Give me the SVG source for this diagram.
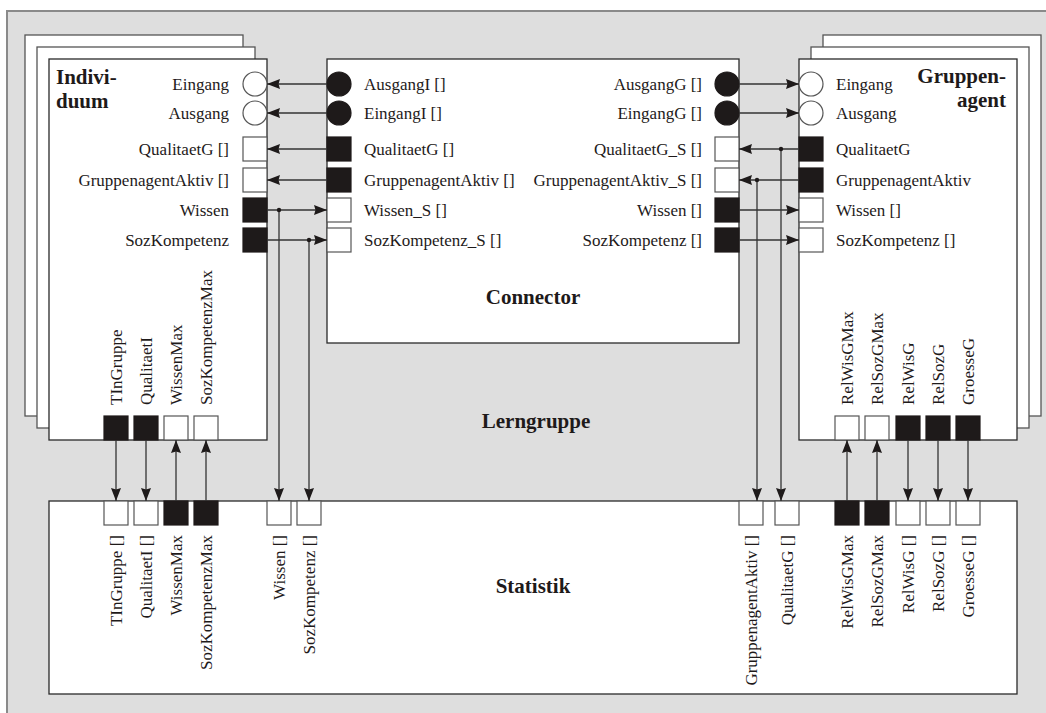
<svg xmlns="http://www.w3.org/2000/svg" width="1046" height="713" viewBox="0 0 1046 713">
  <style>
    .box { fill: #ffffff; stroke: #2a2a2a; stroke-width: 1.3; }
    .page { fill: #ffffff; stroke: #555555; stroke-width: 1.3; }
    .pin { fill: #ffffff; stroke: #555555; stroke-width: 1.2; }
    .pout { fill: #1e1a1a; stroke: #1e1a1a; stroke-width: 1.2; }
    .lbl { font-family: "Liberation Serif", "Times New Roman", serif; font-size: 17px; fill: #1e1a1a; }
    .ttl { font-family: "Liberation Serif", "Times New Roman", serif; font-size: 21px; font-weight: bold; fill: #1e1a1a; }
    .end { text-anchor: end; }
    .mid { text-anchor: middle; }
    .wire { fill: none; stroke: #333333; stroke-width: 1.3; marker-end: url(#arr); }
    .dot { fill: #1e1a1a; }
  </style>
  <defs>
    <marker id="arr" markerUnits="userSpaceOnUse" markerWidth="14" markerHeight="11" refX="13" refY="5" orient="auto">
      <path d="M0,0 L13,5 L0,10 L1.5,5 z" fill="#1e1a1a"/>
    </marker>
  </defs>

  <!-- learning group frame -->
  <rect x="7" y="11" width="1060" height="720" fill="#dedede" stroke="#8a8a8a" stroke-width="2"/>
  <text class="ttl mid" x="536" y="428">Lerngruppe</text>

  <!-- Individuum (stacked instances) -->
  <g id="individuum">
    <rect class="page" x="25" y="35" width="218" height="381"/>
    <rect class="page" x="37" y="47" width="218" height="381"/>
    <rect class="box" x="49" y="59" width="218" height="381"/>
    <text class="ttl" x="56" y="84">Indivi-</text>
    <text class="ttl" x="56" y="107.5">duum</text>
    <circle class="pin" cx="255" cy="84" r="12"/>
    <circle class="pin" cx="255" cy="113" r="12"/>
    <rect class="pin" x="243" y="137" width="24" height="24"/>
    <rect class="pin" x="243" y="168" width="24" height="24"/>
    <rect class="pout" x="243" y="198" width="24" height="24"/>
    <rect class="pout" x="243" y="228" width="24" height="24"/>
    <text class="lbl end" x="229" y="90">Eingang</text>
    <text class="lbl end" x="229" y="119">Ausgang</text>
    <text class="lbl end" x="229" y="155">QualitaetG []</text>
    <text class="lbl end" x="229" y="186">GruppenagentAktiv []</text>
    <text class="lbl end" x="229" y="216">Wissen</text>
    <text class="lbl end" x="229" y="246">SozKompetenz</text>
    <rect class="pout" x="104" y="416" width="24" height="24"/>
    <rect class="pout" x="134" y="416" width="24" height="24"/>
    <rect class="pin" x="164" y="416" width="24" height="24"/>
    <rect class="pin" x="194" y="416" width="24" height="24"/>
    <text class="lbl" transform="translate(121.5,405) rotate(-90)">TInGruppe</text>
    <text class="lbl" transform="translate(151.5,405) rotate(-90)">QualitaetI</text>
    <text class="lbl" transform="translate(181.5,405) rotate(-90)">WissenMax</text>
    <text class="lbl" transform="translate(211.5,405) rotate(-90)">SozKompetenzMax</text>
  </g>

  <!-- Connector -->
  <g id="connector">
    <rect class="box" x="327" y="59" width="412" height="284"/>
    <circle class="pout" cx="339" cy="84" r="12"/>
    <circle class="pout" cx="339" cy="113" r="12"/>
    <rect class="pout" x="327" y="137" width="24" height="24"/>
    <rect class="pout" x="327" y="168" width="24" height="24"/>
    <rect class="pin" x="327" y="198" width="24" height="24"/>
    <rect class="pin" x="327" y="228" width="24" height="24"/>
    <text class="lbl" x="364" y="90">AusgangI []</text>
    <text class="lbl" x="364" y="119">EingangI []</text>
    <text class="lbl" x="364" y="155">QualitaetG []</text>
    <text class="lbl" x="364" y="186">GruppenagentAktiv []</text>
    <text class="lbl" x="364" y="216">Wissen_S []</text>
    <text class="lbl" x="364" y="246">SozKompetenz_S []</text>
    <circle class="pout" cx="727" cy="84" r="12"/>
    <circle class="pout" cx="727" cy="113" r="12"/>
    <rect class="pin" x="715" y="137" width="24" height="24"/>
    <rect class="pin" x="715" y="168" width="24" height="24"/>
    <rect class="pout" x="715" y="198" width="24" height="24"/>
    <rect class="pout" x="715" y="228" width="24" height="24"/>
    <text class="lbl end" x="702" y="90">AusgangG []</text>
    <text class="lbl end" x="702" y="119">EingangG []</text>
    <text class="lbl end" x="702" y="155">QualitaetG_S []</text>
    <text class="lbl end" x="702" y="186">GruppenagentAktiv_S []</text>
    <text class="lbl end" x="702" y="216">Wissen []</text>
    <text class="lbl end" x="702" y="246">SozKompetenz []</text>
    <text class="ttl mid" x="533" y="304">Connector</text>
  </g>

  <!-- Gruppenagent (stacked instances) -->
  <g id="gruppenagent">
    <rect class="page" x="823" y="35" width="218" height="381"/>
    <rect class="page" x="811" y="47" width="218" height="381"/>
    <rect class="box" x="799" y="59" width="218" height="381"/>
    <text class="ttl end" x="1006" y="83">Gruppen-</text>
    <text class="ttl end" x="1006" y="107">agent</text>
    <circle class="pin" cx="811" cy="84" r="12"/>
    <circle class="pin" cx="811" cy="113" r="12"/>
    <rect class="pout" x="799" y="137" width="24" height="24"/>
    <rect class="pout" x="799" y="168" width="24" height="24"/>
    <rect class="pin" x="799" y="198" width="24" height="24"/>
    <rect class="pin" x="799" y="228" width="24" height="24"/>
    <text class="lbl" x="836" y="90">Eingang</text>
    <text class="lbl" x="836" y="119">Ausgang</text>
    <text class="lbl" x="836" y="155">QualitaetG</text>
    <text class="lbl" x="836" y="186">GruppenagentAktiv</text>
    <text class="lbl" x="836" y="216">Wissen []</text>
    <text class="lbl" x="836" y="246">SozKompetenz []</text>
    <rect class="pin" x="835" y="416" width="24" height="24"/>
    <rect class="pin" x="865" y="416" width="24" height="24"/>
    <rect class="pout" x="896" y="416" width="24" height="24"/>
    <rect class="pout" x="926" y="416" width="24" height="24"/>
    <rect class="pout" x="956" y="416" width="24" height="24"/>
    <text class="lbl" transform="translate(852.5,405) rotate(-90)">RelWisGMax</text>
    <text class="lbl" transform="translate(882.5,405) rotate(-90)">RelSozGMax</text>
    <text class="lbl" transform="translate(913.5,405) rotate(-90)">RelWisG</text>
    <text class="lbl" transform="translate(943.5,405) rotate(-90)">RelSozG</text>
    <text class="lbl" transform="translate(973.5,405) rotate(-90)">GroesseG</text>
  </g>

  <!-- Statistik -->
  <g id="statistik">
    <rect class="box" x="49" y="501" width="968" height="193"/>
    <rect class="pin" x="104" y="501" width="24" height="24"/>
    <rect class="pin" x="134" y="501" width="24" height="24"/>
    <rect class="pout" x="164" y="501" width="24" height="24"/>
    <rect class="pout" x="194" y="501" width="24" height="24"/>
    <rect class="pin" x="267" y="501" width="24" height="24"/>
    <rect class="pin" x="297" y="501" width="24" height="24"/>
    <rect class="pin" x="739" y="501" width="24" height="24"/>
    <rect class="pin" x="775" y="501" width="24" height="24"/>
    <rect class="pout" x="835" y="501" width="24" height="24"/>
    <rect class="pout" x="865" y="501" width="24" height="24"/>
    <rect class="pin" x="896" y="501" width="24" height="24"/>
    <rect class="pin" x="926" y="501" width="24" height="24"/>
    <rect class="pin" x="956" y="501" width="24" height="24"/>
    <g text-anchor="end">
      <text class="lbl" transform="translate(121.5,535) rotate(-90)">TInGruppe []</text>
      <text class="lbl" transform="translate(151.5,535) rotate(-90)">QualitaetI []</text>
      <text class="lbl" transform="translate(181.5,535) rotate(-90)">WissenMax</text>
      <text class="lbl" transform="translate(211.5,535) rotate(-90)">SozKompetenzMax</text>
      <text class="lbl" transform="translate(284.5,535) rotate(-90)">Wissen []</text>
      <text class="lbl" transform="translate(314.5,535) rotate(-90)">SozKompetenz []</text>
      <text class="lbl" transform="translate(756.5,535) rotate(-90)">GruppenagentAktiv []</text>
      <text class="lbl" transform="translate(792.5,535) rotate(-90)">QualitaetG []</text>
      <text class="lbl" transform="translate(852.5,535) rotate(-90)">RelWisGMax</text>
      <text class="lbl" transform="translate(882.5,535) rotate(-90)">RelSozGMax</text>
      <text class="lbl" transform="translate(913.5,535) rotate(-90)">RelWisG []</text>
      <text class="lbl" transform="translate(943.5,535) rotate(-90)">RelSozG []</text>
      <text class="lbl" transform="translate(973.5,535) rotate(-90)">GroesseG []</text>
    </g>
    <text class="ttl mid" x="533" y="593">Statistik</text>
  </g>

  <!-- connectors -->
  <g id="connectors">
    <!-- Connector <-> Individuum -->
    <path class="wire" d="M327,84 H267"/>
    <path class="wire" d="M327,113 H267"/>
    <path class="wire" d="M327,149 H267"/>
    <path class="wire" d="M327,180 H267"/>
    <path class="wire" d="M267,210 H327"/>
    <path class="wire" d="M267,240 H327"/>
    <!-- Connector <-> Gruppenagent -->
    <path class="wire" d="M739,84 H799"/>
    <path class="wire" d="M739,113 H799"/>
    <path class="wire" d="M799,149 H739"/>
    <path class="wire" d="M799,180 H739"/>
    <path class="wire" d="M739,210 H799"/>
    <path class="wire" d="M739,240 H799"/>
    <!-- branches to Statistik -->
    <path class="wire" d="M279,210 V501"/>
    <path class="wire" d="M309,240 V501"/>
    <path class="wire" d="M757,180 V501"/>
    <path class="wire" d="M781,149 V501"/>
    <circle class="dot" cx="279" cy="210" r="2.2"/>
    <circle class="dot" cx="309" cy="240" r="2.2"/>
    <circle class="dot" cx="757" cy="180" r="2.2"/>
    <circle class="dot" cx="781" cy="149" r="2.2"/>
    <!-- Individuum <-> Statistik -->
    <path class="wire" d="M116,440 V501"/>
    <path class="wire" d="M146,440 V501"/>
    <path class="wire" d="M176,501 V440"/>
    <path class="wire" d="M206,501 V440"/>
    <!-- Gruppenagent <-> Statistik -->
    <path class="wire" d="M847,501 V440"/>
    <path class="wire" d="M877,501 V440"/>
    <path class="wire" d="M908,440 V501"/>
    <path class="wire" d="M938,440 V501"/>
    <path class="wire" d="M968,440 V501"/>
  </g>
</svg>
